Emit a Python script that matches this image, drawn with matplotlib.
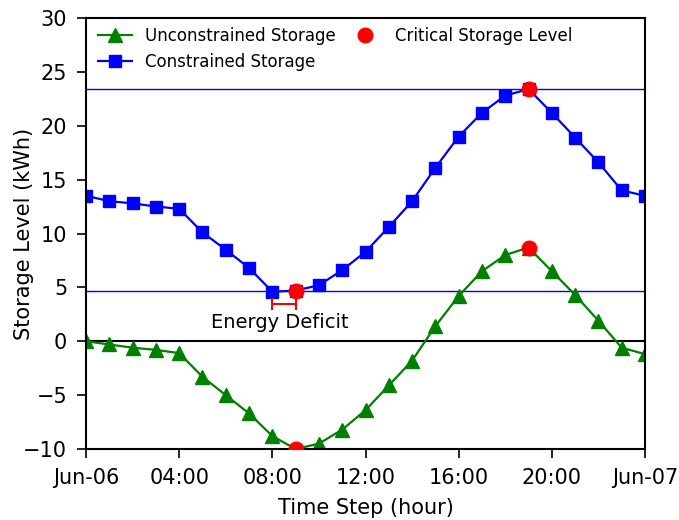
import matplotlib
matplotlib.use('Agg')
import matplotlib.pyplot as plt
import numpy as np

hours = np.arange(25)

constrained = [13.5, 13.0, 12.8, 12.5, 12.3, 10.1, 8.5, 6.8, 4.6, 4.7, 5.2, 6.6, 8.3,
               10.6, 13.0, 16.1, 19.0, 21.2, 22.8, 23.4, 21.2, 18.9, 16.6, 14.0, 13.5]
unconstrained = [0.0, -0.3, -0.6, -0.8, -1.1, -3.3, -5.0, -6.7, -8.8, -10.0, -9.5, -8.2, -6.4,
                 -4.1, -1.8, 1.4, 4.2, 6.5, 8.0, 8.7, 6.5, 4.3, 1.9, -0.6, -1.2]

critical_hours = [9, 19, 9, 19]
critical_levels = [4.7, 23.4, -10.0, 8.7]
storage_limits = [23.4, 4.7]

deficit_start, deficit_end, deficit_level = 8, 9, 3.5

tick_hours = [0, 4, 8, 12, 16, 20, 24]
tick_labels = ['Jun-06', '04:00', '08:00', '12:00', '16:00', '20:00', 'Jun-07']

plt.rcParams['font.size'] = 15

fig = plt.figure(figsize=(6.79, 5.2), dpi=100)
ax = fig.add_axes([86 / 679, 71 / 520, 559 / 679, 431 / 520])

for level in storage_limits:
    ax.axhline(level, color='blue', linewidth=1.0)
ax.axhline(0, color='black', linewidth=1.5)

ax.plot(hours, unconstrained, color='green', marker='^', markersize=9.5,
        linewidth=1.6, label='Unconstrained Storage')
ax.plot(hours, constrained, color='blue', marker='s', markersize=8,
        linewidth=1.6, label='Constrained Storage')
ax.plot(critical_hours, critical_levels, linestyle='none', color='red', marker='o',
        markersize=10.5, label='Critical Storage Level', zorder=5)

mid = (deficit_start + deficit_end) / 2
ax.errorbar([mid], [deficit_level], xerr=[(deficit_end - deficit_start) / 2],
            color='red', capsize=4, linewidth=1.5, elinewidth=1.5, capthick=1.5)
ax.text(8.3, 1.7, 'Energy Deficit', ha='center', va='center', fontsize=14)

ax.set_xlim(0, 24)
ax.set_ylim(-10, 30)
ax.set_xticks(tick_hours)
ax.set_xticklabels(tick_labels)
ax.set_yticks(np.arange(-10, 31, 5))
ax.tick_params(length=6.5, width=1.2, pad=7)
for spine in ax.spines.values():
    spine.set_linewidth(1.5)

ax.set_xlabel('Time Step (hour)', labelpad=7.5)
ax.set_ylabel('Storage Level (kWh)')
ax.yaxis.set_label_coords(-0.093, 0.5)

ax.legend(loc='upper left', bbox_to_anchor=(-0.005, 1.014), ncol=2, frameon=False,
          fontsize=12, columnspacing=0.78)

fig.savefig('out.png', dpi=100)
